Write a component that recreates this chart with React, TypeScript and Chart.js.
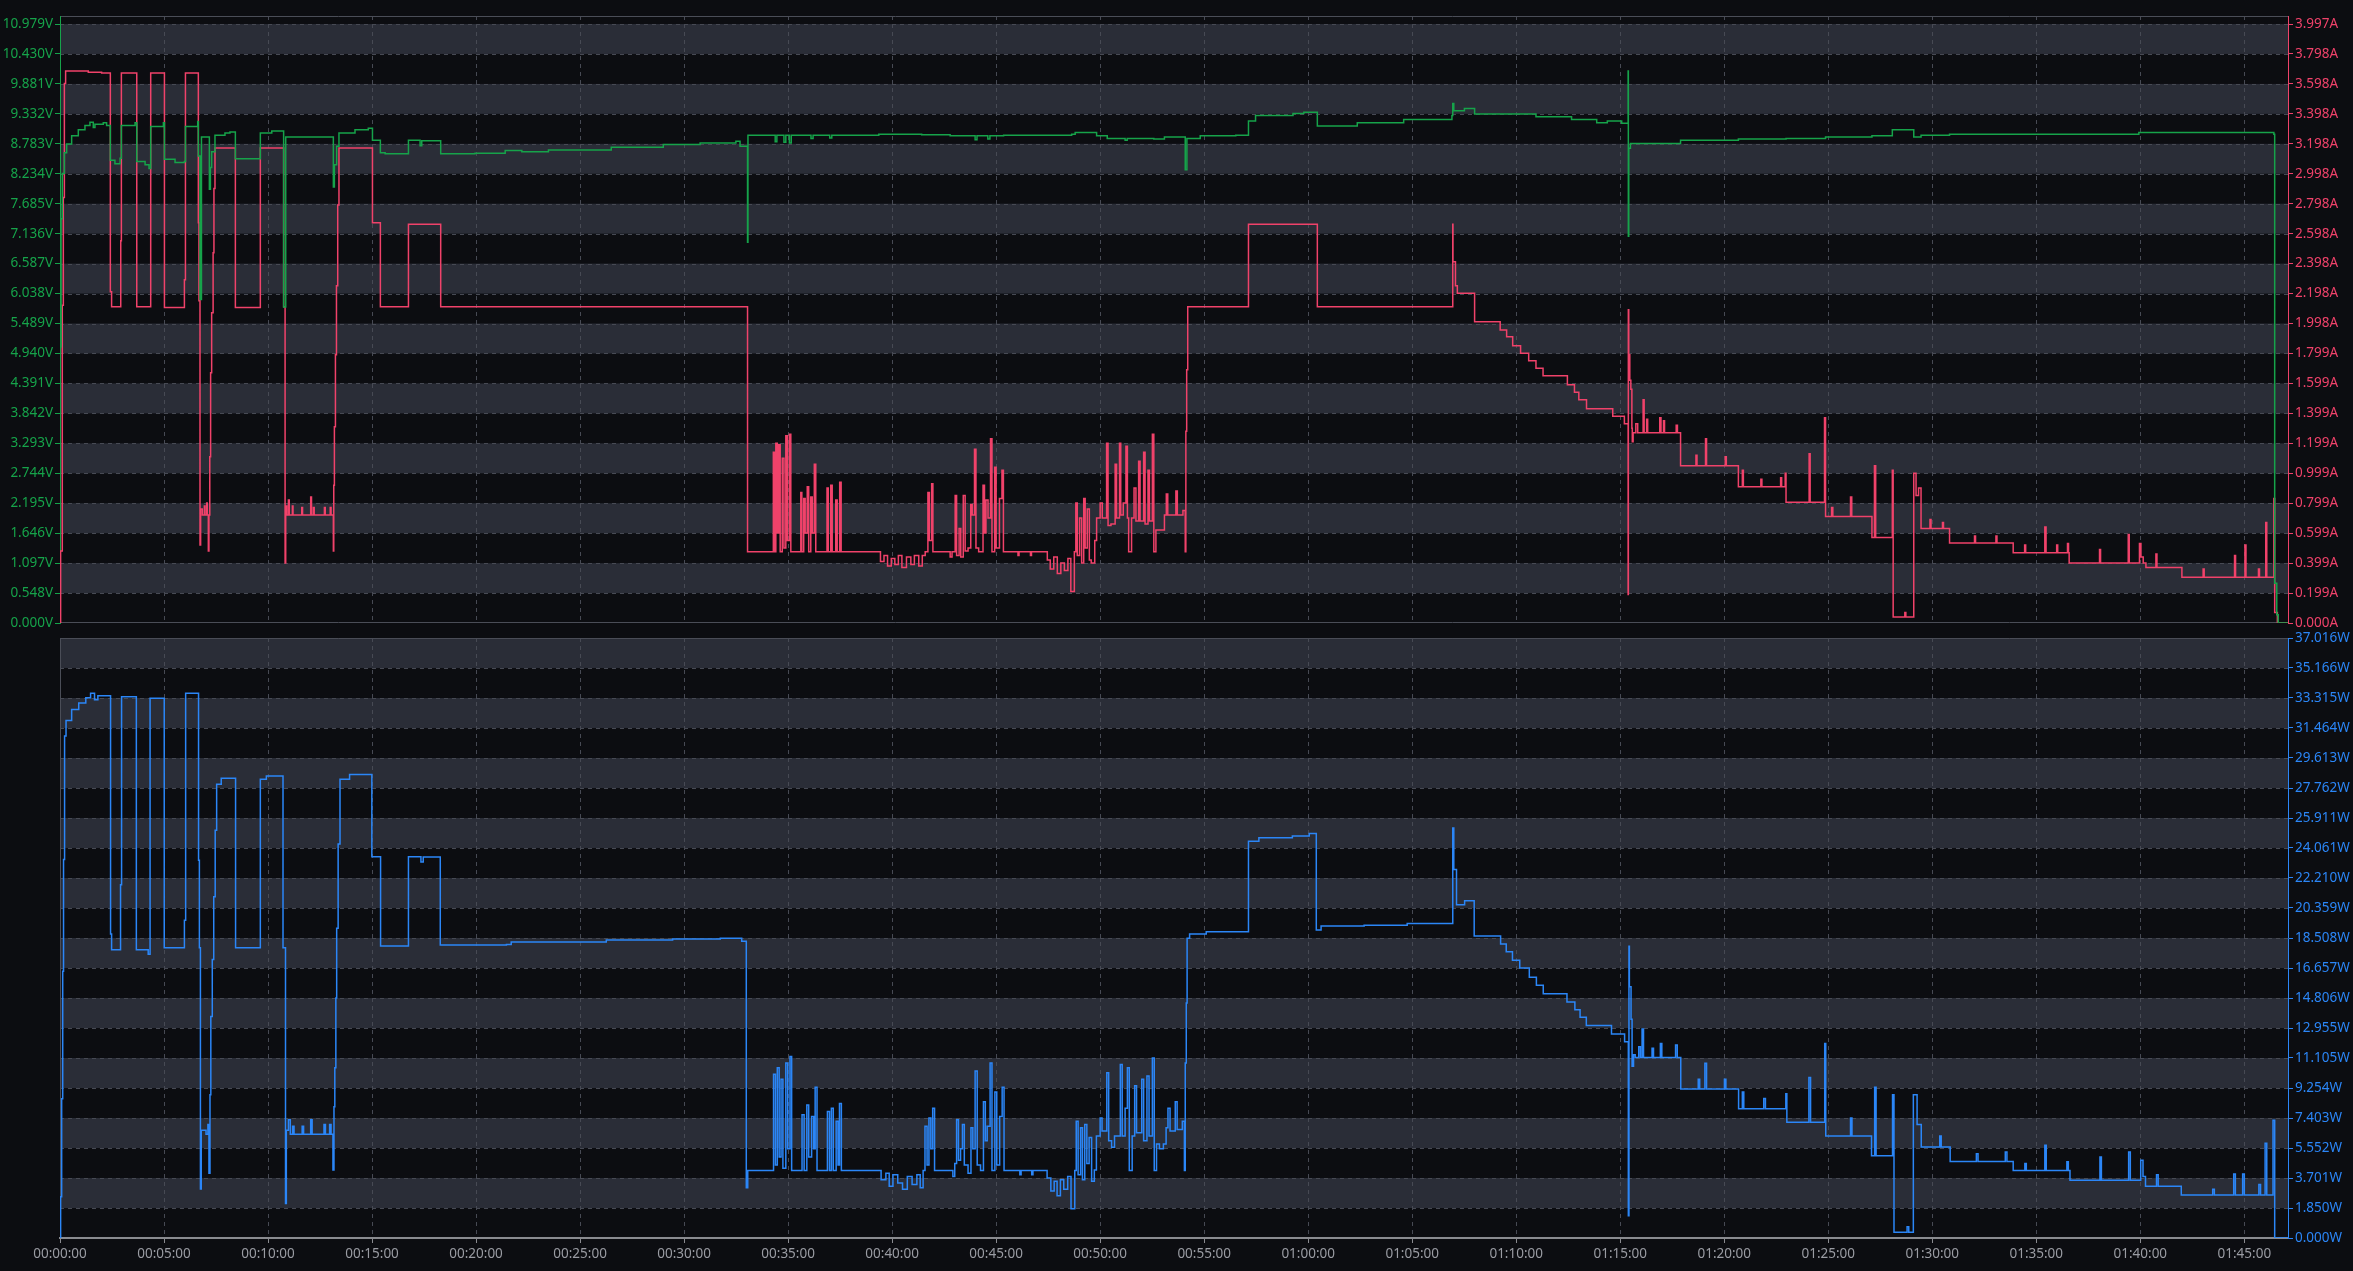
import { useEffect, useRef } from "react"
import { Chart, registerables } from "chart.js"

Chart.register(...registerables)

// time axis in minutes
const T_MAX = 107.1
const timeTicks = [0, 5, 10, 15, 20, 25, 30, 35, 40, 45, 50, 55, 60, 65, 70, 75, 80, 85, 90, 95, 100, 105]

const voltLabels = ["0.000V", "0.548V", "1.097V", "1.646V", "2.195V", "2.744V", "3.293V", "3.842V", "4.391V", "4.940V", "5.489V", "6.038V", "6.587V", "7.136V", "7.685V", "8.234V", "8.783V", "9.332V", "9.881V", "10.430V", "10.979V"]
const ampLabels = ["0.000A", "0.199A", "0.399A", "0.599A", "0.799A", "0.999A", "1.199A", "1.399A", "1.599A", "1.799A", "1.998A", "2.198A", "2.398A", "2.598A", "2.798A", "2.998A", "3.198A", "3.398A", "3.598A", "3.798A", "3.997A"]
const wattLabels = ["0.000W", "1.850W", "3.701W", "5.552W", "7.403W", "9.254W", "11.105W", "12.955W", "14.806W", "16.657W", "18.508W", "20.359W", "22.210W", "24.061W", "25.911W", "27.762W", "29.613W", "31.464W", "33.315W", "35.166W", "37.016W"]

// [minute, volts]
const voltTrace = [
  [0, 5.06], [0.05, 7.41], [0.11, 8.24], [0.21, 8.62], [0.32, 8.78], [0.56, 8.93], [0.88, 9.04], [1.2, 9.12], [1.44, 9.18], [1.6, 9.08], [1.68, 9.14], [2.08, 9.17], [2.24, 9.12],
  [2.42, 8.48], [2.64, 8.42], [2.89, 8.52], [2.95, 9.12], [3.61, 9.17],
  [3.69, 8.46], [4.09, 8.4], [4.28, 8.33], [4.36, 9.1], [4.97, 9.17],
  [5.02, 8.5], [5.53, 8.44], [5.98, 8.46], [6.03, 9.1], [6.62, 9.19],
  [6.65, 8.56], [6.73, 5.93], [6.8, 8.91], [7.18, 7.95], [7.23, 8.35], [7.29, 8.64], [7.45, 8.94], [7.93, 8.98], [8.17, 9.0],
  [8.43, 8.51], [9.63, 8.98], [10.18, 9.02], [10.75, 5.79], [10.85, 8.91],
  [13.14, 7.99], [13.19, 8.4], [13.3, 8.74], [13.41, 8.98], [14.18, 9.04], [14.82, 9.07],
  [15.02, 8.85], [15.4, 8.62], [15.63, 8.6], [16.75, 8.85], [17.31, 8.75], [17.39, 8.84],
  [18.3, 8.6], [19.95, 8.61], [21.4, 8.66], [22.2, 8.64], [23.48, 8.67], [26.5, 8.72], [29.0, 8.77],
  [30.77, 8.8], [32.49, 8.83], [32.69, 8.74], [33.05, 6.98], [33.07, 8.94],
  [34.38, 8.82], [34.46, 8.94], [34.8, 8.81], [34.89, 8.94], [35.06, 8.8], [35.15, 8.94], [36.1, 8.88], [36.2, 8.94], [37.0, 8.89], [37.1, 8.94],
  [39.36, 8.96], [41.42, 8.95], [42.79, 8.93], [43.99, 8.86], [44.08, 8.93], [44.6, 8.87], [44.7, 8.93], [45.36, 8.94], [48.63, 8.96], [48.8, 8.99],
  [49.83, 8.93], [50.34, 8.88], [51.2, 8.85], [51.3, 8.88], [52.58, 8.87], [53.09, 8.91],
  [54.09, 8.31], [54.17, 8.88], [54.81, 8.93], [56.52, 8.94], [57.13, 9.2], [57.47, 9.3], [59.27, 9.34], [59.79, 9.36],
  [60.44, 9.11], [62.36, 9.17], [64.59, 9.23], [66.91, 9.3], [66.95, 9.52], [67.0, 9.39], [67.51, 9.43], [68.0, 9.33], [69.83, 9.33],
  [70.95, 9.28], [72.66, 9.23], [73.87, 9.17], [74.38, 9.2], [75.07, 9.16],
  [75.38, 10.12], [75.39, 7.09], [75.41, 8.7], [75.49, 8.79], [77.9, 8.85], [80.68, 8.87], [82.97, 8.88], [84.87, 8.91], [87.1, 8.93],
  [88.08, 9.04], [89.11, 8.91], [89.46, 8.94], [90.83, 8.96], [99.93, 8.99], [106.42, 8.96], [106.46, 0.73], [106.56, 0.15], [106.63, 0], [107.1, 0],
]

// [minute, amps]
const ampTrace = [
  [0, 0], [0.03, 0.48], [0.11, 2.12], [0.16, 2.84], [0.21, 3.6], [0.27, 3.684], [1.36, 3.675], [2.0, 3.67],
  [2.42, 2.21], [2.48, 2.11], [2.92, 2.55], [2.95, 3.67], [3.69, 2.11], [4.36, 3.67], [5.02, 2.105], [5.98, 2.29], [6.03, 3.67],
  [6.65, 2.67], [6.68, 2.15], [6.73, 0.52], [6.76, 0.76], [6.84, 0.72], [6.94, 0.78], [6.97, 0.72], [7.05, 0.8], [7.08, 0.72], [7.13, 0.48], [7.16, 0.72],
  [7.2, 1.11], [7.24, 1.67], [7.29, 2.07], [7.36, 2.47], [7.4, 2.9], [7.45, 3.17], [8.43, 2.105], [9.63, 3.17],
  [10.75, 2.11], [10.82, 0.4], [10.85, 0.78], [10.9, 0.72], [10.98, 0.82], [11.02, 0.72], [11.17, 0.78], [11.2, 0.72], [11.62, 0.77], [11.66, 0.72],
  [12.05, 0.84], [12.09, 0.72], [12.18, 0.77], [12.22, 0.72], [12.71, 0.77], [12.75, 0.72], [12.99, 0.77], [13.03, 0.72],
  [13.14, 0.48], [13.16, 0.92], [13.19, 1.31], [13.24, 1.79], [13.29, 2.25], [13.35, 2.79], [13.41, 3.17],
  [15.02, 2.67], [15.4, 2.11], [16.75, 2.66], [18.3, 2.11],
  [33.05, 0.476],
  [34.29, 1.14], [34.34, 0.476], [34.41, 1.2], [34.48, 0.6], [34.55, 1.19], [34.62, 0.476], [34.72, 1.1], [34.8, 0.5], [34.89, 1.25], [34.96, 0.55], [35.06, 1.26], [35.13, 0.476],
  [35.61, 0.87], [35.66, 0.476], [35.75, 0.83], [35.82, 0.6], [35.92, 0.91], [35.99, 0.476], [36.09, 0.84], [36.16, 0.6], [36.26, 1.06], [36.33, 0.476],
  [36.87, 0.9], [36.93, 0.476], [37.05, 0.92], [37.12, 0.476], [37.29, 0.82], [37.36, 0.476], [37.48, 0.94], [37.55, 0.476],
  [39.44, 0.41], [39.61, 0.45], [39.78, 0.38], [39.96, 0.43], [40.13, 0.39], [40.3, 0.45], [40.47, 0.37], [40.69, 0.44], [40.9, 0.39], [41.07, 0.45], [41.28, 0.38], [41.45, 0.45], [41.59, 0.476],
  [41.72, 0.87], [41.79, 0.55], [41.9, 0.93], [41.96, 0.476],
  [42.79, 0.44], [42.88, 0.476], [43.03, 0.85], [43.1, 0.45], [43.22, 0.63], [43.3, 0.44], [43.42, 0.85], [43.51, 0.48], [43.65, 0.5], [43.78, 0.79], [43.85, 0.72],
  [43.96, 1.16], [44.03, 0.5], [44.16, 0.476], [44.37, 0.92], [44.44, 0.6], [44.51, 0.82], [44.61, 0.7], [44.73, 1.23], [44.8, 0.476], [44.93, 1.04], [45.0, 0.5],
  [45.16, 0.83], [45.28, 1.02], [45.35, 0.476],
  [46.05, 0.45], [46.1, 0.476], [46.65, 0.45], [46.7, 0.476],
  [47.46, 0.42], [47.6, 0.36], [47.77, 0.44], [47.94, 0.33], [48.11, 0.4], [48.28, 0.35], [48.45, 0.43], [48.59, 0.21], [48.76, 0.476],
  [48.83, 0.8], [48.9, 0.45], [49.01, 0.7], [49.11, 0.4], [49.21, 0.83], [49.28, 0.5], [49.38, 0.76], [49.48, 0.42], [49.57, 0.4], [49.74, 0.55], [49.83, 0.7],
  [50.0, 0.8], [50.1, 0.7], [50.31, 1.2], [50.38, 0.65], [50.52, 0.66], [50.72, 1.06], [50.79, 0.7], [50.93, 1.2], [50.99, 0.72], [51.11, 0.8], [51.24, 1.18], [51.31, 0.7],
  [51.37, 0.476], [51.51, 0.7], [51.63, 0.9], [51.72, 0.68], [51.85, 1.08], [51.92, 0.68], [52.09, 1.14], [52.16, 0.66], [52.3, 1.02], [52.37, 0.68], [52.51, 1.26], [52.58, 0.476],
  [52.68, 0.62], [53.09, 0.72], [53.18, 0.86], [53.25, 0.72], [53.64, 0.88], [53.71, 0.72], [53.98, 0.75],
  [54.09, 0.476], [54.12, 1.28], [54.16, 1.69], [54.21, 2.11], [57.13, 2.66], [60.44, 2.11],
  [66.95, 2.66], [66.96, 2.41], [67.08, 2.25], [67.17, 2.2], [68.0, 2.01], [69.23, 1.955], [69.54, 1.91], [69.83, 1.85], [70.21, 1.8], [70.6, 1.75], [70.95, 1.7],
  [71.29, 1.65], [72.46, 1.59], [72.8, 1.54], [73.01, 1.49], [73.38, 1.43], [74.64, 1.38], [75.2, 1.33],
  [75.38, 0.19], [75.39, 2.09], [75.41, 1.79], [75.46, 1.62], [75.51, 1.56], [75.56, 1.3], [75.58, 1.21], [75.62, 1.27],
  [75.75, 1.33], [75.84, 1.27], [76.1, 1.49], [76.15, 1.27], [76.27, 1.36], [76.32, 1.27], [76.9, 1.37], [76.96, 1.27], [77.08, 1.35], [77.13, 1.27], [77.69, 1.32], [77.75, 1.27],
  [77.9, 1.05], [78.64, 1.12], [78.69, 1.05], [79.1, 1.23], [79.15, 1.05], [80.05, 1.11], [80.1, 1.05],
  [80.68, 0.91], [80.87, 1.02], [80.92, 0.91], [81.76, 0.96], [81.81, 0.91], [82.71, 0.97], [82.76, 0.91],
  [82.93, 1.0], [82.97, 0.805], [84.08, 1.13], [84.13, 0.805], [84.82, 1.37], [84.87, 0.71],
  [85.16, 0.77], [85.22, 0.71], [86.07, 0.84], [86.13, 0.71],
  [87.1, 0.57], [87.22, 1.05], [87.28, 0.57], [88.08, 1.02], [88.12, 0.04], [88.68, 0.07], [88.73, 0.04],
  [89.11, 1.0], [89.22, 0.85], [89.34, 0.9], [89.46, 0.63], [89.89, 0.69], [89.94, 0.63], [90.49, 0.67], [90.54, 0.63],
  [90.83, 0.534], [92.03, 0.58], [92.08, 0.534], [93.06, 0.58], [93.11, 0.534],
  [93.89, 0.468], [94.44, 0.52], [94.49, 0.468], [95.41, 0.64], [95.47, 0.468], [95.98, 0.52], [96.03, 0.468], [96.5, 0.53], [96.55, 0.468],
  [96.58, 0.4], [98.04, 0.49], [98.09, 0.4], [99.42, 0.59], [99.47, 0.4],
  [99.96, 0.53], [100.03, 0.44], [100.14, 0.4], [100.27, 0.37], [100.75, 0.46], [100.8, 0.37],
  [102.0, 0.305], [103.02, 0.36], [103.07, 0.305], [104.53, 0.45], [104.58, 0.305], [105.03, 0.52], [105.08, 0.305], [105.68, 0.36], [105.73, 0.305], [106.03, 0.67], [106.08, 0.305],
  [106.42, 0.83], [106.46, 0.07], [106.59, 0], [107.1, 0],
]

// [minute, watts]
const wattTrace = [
  [0, 0], [0.03, 2.54], [0.08, 8.59], [0.13, 16.45], [0.17, 23.35], [0.22, 30.97], [0.29, 31.93], [0.56, 32.6], [0.9, 33.0], [1.24, 33.33], [1.47, 33.6], [1.66, 33.2], [1.82, 33.45],
  [2.43, 18.75], [2.48, 17.78], [2.91, 21.8], [2.96, 33.39], [3.67, 17.78], [4.24, 17.5], [4.33, 33.3], [5.01, 17.9], [5.98, 19.6], [6.04, 33.6],
  [6.66, 23.3], [6.7, 17.9], [6.75, 3.02], [6.79, 6.65], [7.02, 6.4], [7.11, 7.0], [7.16, 4.0], [7.21, 8.83], [7.25, 13.67], [7.32, 17.18], [7.39, 21.05], [7.46, 25.16], [7.53, 28.0], [7.75, 28.36],
  [8.44, 17.9], [9.63, 28.3], [9.92, 28.5], [10.72, 17.9], [10.84, 2.13], [10.88, 6.65],
  [10.98, 7.3], [11.07, 6.4], [11.18, 6.9], [11.25, 6.4], [11.64, 6.9], [11.71, 6.4], [12.05, 7.3], [12.12, 6.4], [12.69, 7.0], [12.76, 6.4], [12.96, 7.0], [13.03, 6.4],
  [13.12, 4.2], [13.17, 8.1], [13.21, 10.5], [13.26, 14.8], [13.3, 19.11], [13.37, 24.3], [13.46, 28.3], [13.92, 28.6],
  [14.99, 23.52], [15.41, 18.02], [16.75, 23.52], [17.35, 23.2], [17.46, 23.5], [18.28, 18.07], [21.46, 18.1], [21.69, 18.26], [24.89, 18.26], [26.26, 18.39], [29.45, 18.45], [31.74, 18.5], [32.77, 18.3],
  [32.99, 3.1], [33.06, 4.16],
  [34.3, 10.1], [34.39, 4.5], [34.48, 10.5], [34.57, 5.0], [34.66, 9.8], [34.75, 4.3], [34.89, 10.8], [34.98, 5.5], [35.09, 11.2], [35.17, 4.16],
  [35.67, 7.6], [35.77, 4.16], [35.9, 8.2], [35.99, 5.0], [36.13, 7.5], [36.23, 5.5], [36.3, 9.3], [36.39, 4.16],
  [36.89, 7.8], [36.99, 4.16], [37.08, 8.0], [37.17, 4.16], [37.31, 7.2], [37.4, 4.5], [37.47, 8.3], [37.56, 4.16],
  [39.47, 3.6], [39.7, 4.0], [39.86, 3.2], [40.04, 3.9], [40.27, 3.4], [40.5, 3.0], [40.73, 3.8], [40.96, 3.3], [41.19, 3.9], [41.35, 3.1], [41.49, 4.16],
  [41.58, 6.9], [41.68, 4.5], [41.77, 7.4], [41.86, 5.5], [41.95, 8.0], [42.04, 4.16],
  [42.92, 3.8], [43.01, 4.6], [43.1, 7.3], [43.19, 4.8], [43.29, 5.5], [43.38, 7.0], [43.47, 4.5], [43.65, 4.0], [43.79, 6.8], [43.88, 5.5], [43.99, 10.3], [44.09, 4.5],
  [44.25, 4.16], [44.39, 8.4], [44.48, 6.0], [44.57, 6.9], [44.71, 10.8], [44.8, 4.16], [44.94, 9.0], [45.03, 4.5], [45.17, 7.5], [45.29, 9.3], [45.38, 4.16],
  [46.14, 3.9], [46.2, 4.16], [46.71, 3.9], [46.77, 4.16],
  [47.45, 3.7], [47.63, 2.9], [47.79, 3.5], [47.93, 2.6], [48.09, 3.6], [48.25, 3.0], [48.44, 3.8], [48.6, 1.8], [48.78, 4.16],
  [48.85, 7.2], [48.94, 3.9], [49.06, 6.8], [49.15, 3.6], [49.26, 7.0], [49.36, 4.6], [49.47, 6.2], [49.59, 3.5], [49.72, 4.2],
  [49.82, 6.3], [50.0, 7.4], [50.09, 6.6], [50.32, 10.2], [50.41, 6.0], [50.55, 5.6], [50.69, 6.3], [50.97, 10.7], [51.06, 6.3], [51.2, 8.0], [51.31, 10.5], [51.4, 4.16],
  [51.54, 6.3], [51.66, 9.4], [51.75, 6.5], [52.0, 9.8], [52.09, 6.0], [52.25, 10.0], [52.35, 6.3], [52.51, 11.1], [52.6, 4.16], [52.71, 5.8], [52.85, 5.5], [53.04, 5.8],
  [53.17, 6.8], [53.26, 8.0], [53.36, 6.6], [53.61, 8.4], [53.7, 6.7], [53.95, 7.2], [54.05, 4.16],
  [54.09, 10.8], [54.14, 14.5], [54.18, 18.5], [54.3, 18.75], [55.1, 18.9],
  [57.13, 24.48], [57.63, 24.7], [59.24, 24.8], [60.05, 24.95], [60.39, 19.0], [60.62, 19.25], [62.69, 19.3], [64.76, 19.4],
  [66.95, 25.3], [67.0, 22.74], [67.13, 20.56], [67.52, 20.8], [67.98, 18.63], [69.25, 18.14], [69.52, 17.66], [69.82, 17.13], [70.17, 16.65], [70.63, 16.09], [70.97, 15.6],
  [71.3, 15.07], [72.44, 14.56], [72.82, 14.08], [73.07, 13.62], [73.37, 13.11], [74.58, 12.58], [75.21, 12.1],
  [75.39, 1.38], [75.42, 18.0], [75.44, 15.5], [75.52, 13.5], [75.57, 10.6], [75.64, 11.3], [75.72, 11.13],
  [75.89, 11.8], [75.97, 11.13], [76.05, 12.9], [76.12, 11.13], [76.53, 11.7], [76.6, 11.13], [76.93, 12.0], [77.0, 11.13], [77.66, 11.9], [77.74, 11.13],
  [77.91, 9.19], [78.75, 9.8], [78.82, 9.19], [79.07, 10.78], [79.15, 9.19], [80.01, 9.8], [80.08, 9.19],
  [80.69, 7.98], [80.87, 9.0], [80.94, 7.98], [81.9, 8.6], [81.98, 7.98], [82.96, 8.9],
  [83.01, 7.14], [84.07, 9.9], [84.15, 7.14], [84.83, 12.0], [84.88, 6.29], [86.07, 7.4], [86.14, 6.29],
  [87.08, 5.08], [87.23, 9.3], [87.3, 5.08], [88.09, 8.83], [88.16, 0.36], [88.79, 0.7], [88.87, 0.36],
  [89.09, 8.83], [89.27, 7.0], [89.47, 5.61], [90.36, 6.3], [90.43, 5.61],
  [90.86, 4.72], [92.12, 5.2], [92.2, 4.72], [93.51, 5.3], [93.59, 4.72],
  [93.89, 4.16], [94.45, 4.6], [94.52, 4.16], [95.41, 5.72], [95.48, 4.16], [96.47, 4.7], [96.54, 4.16],
  [96.62, 3.56], [98.06, 5.0], [98.13, 3.56], [99.44, 5.3], [99.52, 3.56], [100.02, 4.8], [100.13, 3.8],
  [100.25, 3.2], [100.78, 3.9], [100.86, 3.2],
  [101.97, 2.66], [103.48, 3.0], [103.56, 2.66], [104.49, 3.95], [104.57, 2.66], [104.92, 3.95], [105.0, 2.66], [105.7, 3.3], [105.78, 2.66], [106.0, 5.85], [106.08, 2.66],
  [106.38, 7.26], [106.46, 0], [107.1, 0],
]

const BG = "#0c0d11"
const BAND = "#2a2d37"
const GRID = "#474a54"
const FRAME = "#4a4d57"
const GREEN = "#16a34a"
const RED = "#f0426a"
const BLUE = "#2b86f7"
const AXIS_TEXT = "#9a9ca3"
const AXIS_LINE = "#8a8b90"
const FONT = { family: "'Noto Sans', sans-serif", size: 13.5 }

const toPoints = (pairs: number[][]) => pairs.map(([x, y]) => ({ x, y }))
const labelValues = (labels: string[]) => labels.map((l) => parseFloat(l))

const pad2 = (n: number) => String(n).padStart(2, "0")
const fmtTime = (m: number) => {
  const s = Math.round(m * 60)
  return `${pad2(Math.floor(s / 3600))}:${pad2(Math.floor((s % 3600) / 60))}:${pad2(s % 60)}`
}

// alternating bands + dashed grid, drawn under everything
const bandsPlugin = {
  id: "bands",
  beforeDraw(chart: any, _args: any, opts: any) {
    const { ctx, chartArea } = chart
    const { left, right, top, bottom } = chartArea
    const y = chart.scales[opts.axis]
    const x = chart.scales.x
    const ticks = y.ticks
    ctx.save()
    ctx.fillStyle = BAND
    for (let i = 1; i + 1 < ticks.length; i += 2) {
      const y0 = y.getPixelForValue(ticks[i].value)
      const y1 = y.getPixelForValue(ticks[i + 1].value)
      ctx.fillRect(left, y1, right - left, y0 - y1)
    }
    ctx.strokeStyle = GRID
    ctx.lineWidth = 1
    ctx.setLineDash([4, 4])
    ctx.beginPath()
    ticks.forEach((t: any) => {
      if (t.value === 0) return
      const py = Math.round(y.getPixelForValue(t.value)) + 0.5
      ctx.moveTo(left, py)
      ctx.lineTo(right, py)
    })
    timeTicks.forEach((m) => {
      if (m === 0) return
      const px = Math.round(x.getPixelForValue(m)) + 0.5
      ctx.moveTo(px, top)
      ctx.lineTo(px, bottom)
    })
    ctx.stroke()
    ctx.setLineDash([])
    ctx.strokeStyle = FRAME
    ctx.beginPath()
    ctx.moveTo(left, top + 0.5)
    ctx.lineTo(right, top + 0.5)
    if (opts.frameBottom) {
      ctx.moveTo(left, bottom - 0.5)
      ctx.lineTo(right, bottom - 0.5)
    }
    if (opts.frameLeft) {
      ctx.moveTo(left + 0.5, top)
      ctx.lineTo(left + 0.5, bottom)
    }
    ctx.stroke()
    ctx.restore()
  },
}

const valueAxis = (labels: string[], max: number, color: string, position: "left" | "right", width: number) => ({
  type: "linear" as const,
  position,
  min: 0,
  max,
  afterBuildTicks: (axis: any) => {
    axis.ticks = labelValues(labels).map((value) => ({ value }))
  },
  afterFit: (axis: any) => {
    axis.width = width
  },
  ticks: {
    color,
    font: FONT,
    padding: 2,
    callback: (_v: any, i: number) => labels[i],
  },
  grid: { drawOnChartArea: false, drawTicks: true, tickLength: 5, tickColor: color },
  border: { display: true, color, width: 1 },
})

const lineStyle = (color: string) => ({
  borderColor: color,
  borderWidth: 1.5,
  pointRadius: 0,
  stepped: true,
  fill: false,
})

export default function App() {
  const topRef = useRef<HTMLCanvasElement>(null)
  const bottomRef = useRef<HTMLCanvasElement>(null)

  useEffect(() => {
    if (!topRef.current || !bottomRef.current) return

    const top = new Chart(topRef.current, {
      type: "line",
      data: {
        datasets: [
          { label: "Voltage", data: toPoints(voltTrace), yAxisID: "yV", ...lineStyle(GREEN) },
          { label: "Current", data: toPoints(ampTrace), yAxisID: "yA", ...lineStyle(RED) },
        ],
      },
      options: {
        animation: false,
        responsive: true,
        maintainAspectRatio: false,
        events: [],
        layout: { padding: { top: 16, bottom: 17, left: 0, right: 0 } },
        plugins: {
          legend: { display: false },
          tooltip: { enabled: false },
          bands: { axis: "yV", frameBottom: true, frameLeft: false },
        } as any,
        scales: {
          x: { type: "linear", min: 0, max: T_MAX, display: false },
          yV: valueAxis(voltLabels, 11.126, GREEN, "left", 60),
          yA: valueAxis(ampLabels, 4.0504, RED, "right", 65),
        } as any,
      },
      plugins: [bandsPlugin],
    })

    const bottom = new Chart(bottomRef.current, {
      type: "line",
      data: {
        datasets: [{ label: "Power", data: toPoints(wattTrace), yAxisID: "yW", ...lineStyle(BLUE) }],
      },
      options: {
        animation: false,
        responsive: true,
        maintainAspectRatio: false,
        events: [],
        layout: { padding: { top: 14, bottom: 0, left: 60, right: 0 } },
        plugins: {
          legend: { display: false },
          tooltip: { enabled: false },
          bands: { axis: "yW", frameBottom: false, frameLeft: true },
        } as any,
        scales: {
          x: {
            type: "linear",
            min: 0,
            max: T_MAX,
            afterBuildTicks: (axis: any) => {
              axis.ticks = timeTicks.map((value) => ({ value }))
            },
            afterFit: (axis: any) => {
              axis.height = 33
            },
            ticks: {
              color: AXIS_TEXT,
              font: FONT,
              padding: 3,
              maxRotation: 0,
              autoSkip: false,
              callback: (v: any) => fmtTime(Number(v)),
            },
            grid: { drawOnChartArea: false, drawTicks: true, tickLength: 5, tickColor: AXIS_LINE },
            border: { display: true, color: AXIS_LINE, width: 2 },
          },
          yW: valueAxis(wattLabels, 37.016, BLUE, "right", 65),
        } as any,
      },
      plugins: [bandsPlugin],
    })

    return () => {
      top.destroy()
      bottom.destroy()
    }
  }, [])

  return (
    <div style={{ position: "absolute", left: 0, top: 0, width: 2353, height: 1271, background: BG, overflow: "hidden" }}>
      <div style={{ position: "absolute", left: 0, top: 0, width: 2353, height: 640 }}>
        <canvas ref={topRef}></canvas>
      </div>
      <div style={{ position: "absolute", left: 0, top: 624, width: 2353, height: 647 }}>
        <canvas ref={bottomRef}></canvas>
      </div>
    </div>
  )
}
